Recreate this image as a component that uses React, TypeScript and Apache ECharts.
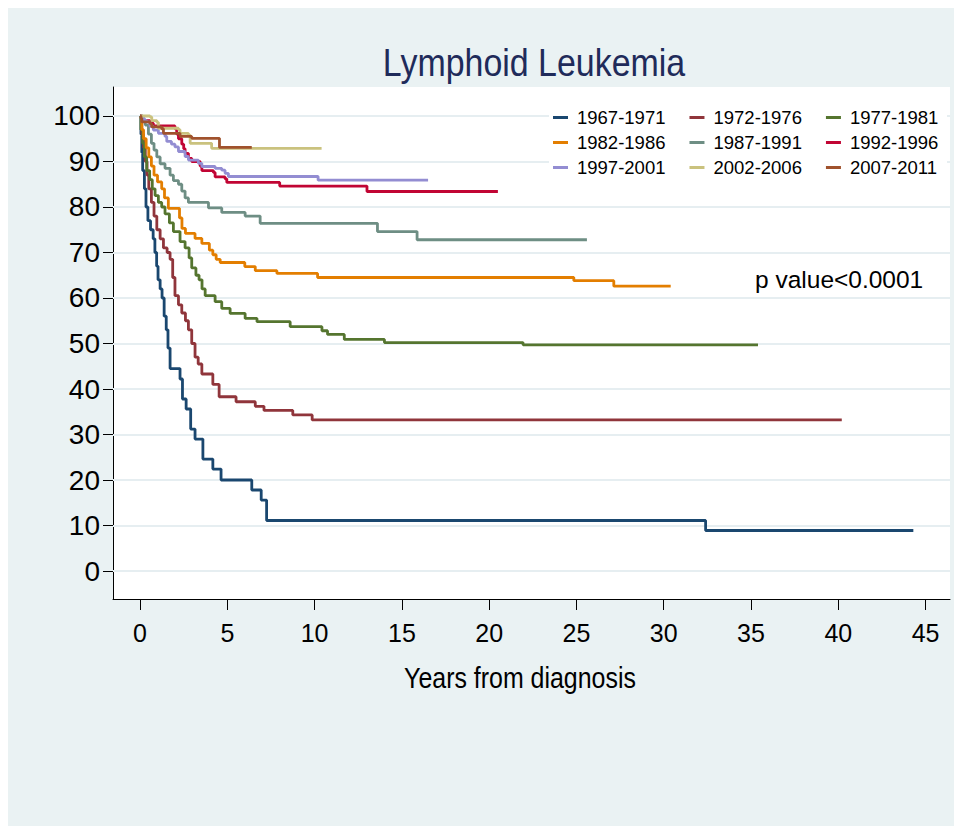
import React, { useEffect, useRef } from "react";
import * as echarts from "echarts";

const chartTitle = "Lymphoid Leukemia";
const xTitle = "Years from diagnosis";
const pValueText = "p value<0.0001";

const xTicks = [0, 5, 10, 15, 20, 25, 30, 35, 40, 45];
const yTicks = [0, 10, 20, 30, 40, 50, 60, 70, 80, 90, 100];

const cohortNames = [
  "1967-1971", "1972-1976", "1977-1981",
  "1982-1986", "1987-1991", "1992-1996",
  "1997-2001", "2002-2006", "2007-2011",
];

const cohortColors = [
  "#1a476f", "#90353b", "#55752f",
  "#e37e00", "#6e8e84", "#c10534",
  "#938dd2", "#cac27e", "#a0522d",
];

// Kaplan-Meier step curves: [years, survival %]
const km1967 = [
  [0, 100], [0.05, 96], [0.1, 92], [0.15, 88], [0.25, 84], [0.34, 80], [0.45, 77],
  [0.6, 75], [0.75, 73], [0.85, 70], [0.95, 67], [1.03, 64], [1.15, 62], [1.26, 60],
  [1.38, 56], [1.5, 53], [1.6, 49], [1.72, 44.5], [2.29, 42.2], [2.43, 37.8],
  [2.64, 35.6], [2.9, 31.2], [3.15, 29], [3.6, 24.6], [4.17, 22.4], [4.64, 20],
  [6.4, 17.8], [6.94, 15.6], [7.25, 11.1], [32.4, 8.9], [44.3, 8.9],
];
const km1972 = [
  [0, 100], [0.1, 96], [0.2, 93], [0.3, 90], [0.4, 87], [0.5, 84], [0.65, 81],
  [0.8, 78], [0.96, 75], [1.15, 73], [1.34, 71], [1.55, 70], [1.72, 68.5],
  [1.87, 64.5], [2.0, 60.5], [2.2, 58.5], [2.39, 56.7], [2.6, 55], [2.77, 53],
  [2.96, 50], [3.15, 47], [3.33, 45.5], [3.54, 43.3], [4.17, 41], [4.53, 38.3],
  [5.5, 37.2], [6.6, 36.2], [7.1, 35.3], [8.75, 34.3], [9.86, 33.2], [40.2, 33.2],
];
const km1977 = [
  [0, 100], [0.05, 97], [0.15, 94], [0.25, 91], [0.38, 88], [0.55, 86], [0.7, 84],
  [0.86, 82.5], [1.05, 81], [1.24, 80], [1.43, 78.5], [1.68, 76.5], [1.91, 74.6],
  [2.29, 72.4], [2.58, 71], [2.81, 68.8], [2.96, 66.6], [3.2, 65], [3.38, 64],
  [3.55, 62], [3.73, 60.5], [4.3, 59.2], [4.68, 57.7], [5.16, 56.6], [6.02, 55.5],
  [6.7, 54.8], [8.6, 53.7], [10.42, 52.8], [10.74, 52], [11.7, 50.9], [14.0, 50.2],
  [21.94, 49.7], [35.4, 49.7],
];
const km1982 = [
  [0, 100], [0.1, 97], [0.2, 95], [0.35, 93], [0.5, 91], [0.65, 89], [0.8, 87],
  [1.0, 85.5], [1.24, 84], [1.4, 82], [1.62, 79.7], [2.26, 77.6], [2.4, 75.3],
  [2.6, 74.2], [3.15, 73.1], [3.54, 72], [3.97, 70.5], [4.17, 69.5], [4.36, 68.5],
  [4.59, 67.8], [6.0, 66.9], [6.6, 66], [7.84, 65.4], [10.17, 64.5], [24.85, 63.8],
  [27.14, 62.6], [30.4, 62.6],
];
const km1987 = [
  [0, 100], [0.15, 99], [0.3, 98], [0.48, 96], [0.65, 94], [0.8, 92.5], [0.96, 91],
  [1.15, 89.5], [1.43, 88.5], [1.72, 87], [1.91, 85.8], [2.2, 85], [2.39, 83.5],
  [2.58, 82], [2.77, 81], [3.92, 79.8], [4.68, 78.8], [6.02, 78], [6.88, 76.4],
  [13.6, 74.6], [15.87, 72.8], [25.6, 72.8],
];
const km1992 = [
  [0, 100], [0.1, 99.5], [0.19, 99], [0.57, 98.4], [0.76, 97.8], [2.0, 97.2],
  [2.1, 96], [2.2, 95], [2.39, 93.8], [2.5, 92.8], [2.58, 91.8], [2.77, 90.7],
  [2.96, 90], [3.44, 89], [3.54, 88], [4.2, 87.6], [4.3, 86.6], [4.87, 86.2],
  [4.97, 85.4], [8.0, 84.6], [13.0, 83.4], [20.5, 83.4],
];
const km1997 = [
  [0, 100], [0.1, 99.5], [0.25, 99], [0.38, 98.7], [0.57, 97.7], [0.76, 96.9],
  [1.05, 96.2], [1.43, 95.5], [1.53, 94.4], [1.8, 93.8], [2.0, 93.2], [2.2, 92.2],
  [2.58, 91.1], [2.77, 90.3], [3.34, 89.6], [3.54, 88.9], [4.3, 88.5], [4.68, 88.1],
  [4.87, 87.4], [5.06, 86.7], [10.2, 85.9], [16.5, 85.9],
];
const km2002 = [
  [0, 100], [0.57, 99.8], [0.67, 99], [0.96, 98.6], [1.05, 97.3], [2.2, 97],
  [2.29, 96.2], [2.77, 95.8], [2.87, 94], [4.1, 92.9], [10.4, 92.9],
];
const km2007 = [
  [0, 100], [0.05, 99.5], [0.1, 98.7], [0.57, 98.3], [0.67, 97.6], [1.24, 97.2],
  [1.34, 96.2], [2.29, 95.5], [2.96, 95.1], [4.55, 93.1], [6.4, 93.1],
];

const cohortData = [km1967, km1972, km1977, km1982, km1987, km1992, km1997, km2002, km2007];

const FONT = "'Liberation Sans', Arial, sans-serif";

export default function App() {
  const ref = useRef<HTMLDivElement>(null);

  useEffect(() => {
    document.body.style.overflow = "hidden";
    document.documentElement.style.overflow = "hidden";
    if (!ref.current) return;
    const chart = echarts.init(ref.current, undefined, { renderer: "svg" });

    const lineSeries = cohortNames.map((name, i) => ({
      name,
      type: "line",
      step: "end",
      data: cohortData[i],
      showSymbol: false,
      symbol: "none",
      z: 10,
      color: cohortColors[i],
      lineStyle: { color: cohortColors[i], width: 2.8 },
    }));

    const legends = [0, 1, 2].map((r) => ({
      data: cohortNames.slice(r * 3, r * 3 + 3),
      orient: "horizontal",
      left: 545,
      top: 100 + r * 25,
      padding: 0,
      itemWidth: 15,
      itemHeight: 3,
      itemGap: 24,
      icon: "rect",
      z: 20,
      selectedMode: false,
      textStyle: {
        fontFamily: FONT,
        fontSize: 18.5,
        color: "#000",
        padding: [0, 0, 0, 4],
      },
    }));

    chart.setOption({
      animation: false,
      backgroundColor: "#eaf2f3",
      legend: legends,
      grid: {
        left: 105,
        top: 79,
        width: 837,
        height: 512,
        show: true,
        backgroundColor: "#ffffff",
        borderWidth: 0,
      },
      xAxis: {
        type: "value",
        min: -1.55,
        max: 46.4,
        axisLine: { show: true, onZero: false, lineStyle: { color: "#000", width: 1 } },
        axisTick: { show: true, customValues: xTicks, length: 11, lineStyle: { color: "#000" } },
        axisLabel: { customValues: xTicks, fontSize: 25, fontFamily: FONT, color: "#000", margin: 21 },
        splitLine: { show: false },
      },
      yAxis: {
        type: "value",
        min: -6.15,
        max: 106.37,
        axisLine: { show: true, onZero: false, lineStyle: { color: "#000", width: 1 } },
        axisTick: { show: true, customValues: yTicks, length: 10, lineStyle: { color: "#000" } },
        axisLabel: { customValues: yTicks, fontSize: 28, fontFamily: FONT, color: "#000", margin: 13 },
        splitLine: { show: false },
      },
      graphic: [
        {
          type: "text",
          z: 10,
          x: 526,
          y: 35,
          scaleX: 0.87,
          style: {
            text: chartTitle,
            font: `39px ${FONT}`,
            fill: "#1f2b5a",
            align: "center",
            verticalAlign: "top",
          },
          silent: true,
        },
        {
          type: "text",
          z: 10,
          x: 512,
          y: 656,
          scaleX: 0.86,
          style: {
            text: xTitle,
            font: `29px ${FONT}`,
            fill: "#000",
            align: "center",
            verticalAlign: "top",
          },
          silent: true,
        },
        {
          type: "rect",
          z: 10,
          shape: { x: 541, y: 96, width: 398, height: 76 },
          style: { fill: "#ffffff" },
          silent: true,
        },
        {
          type: "text",
          z: 10,
          x: 747,
          y: 259,
          style: {
            text: pValueText,
            font: `24.5px ${FONT}`,
            fill: "#000",
            verticalAlign: "top",
          },
          silent: true,
        },
      ],
      series: [
        {
          name: "grid",
          type: "line",
          data: [],
          z: 1,
          silent: true,
          markLine: {
            silent: true,
            z: 1,
            symbol: ["none", "none"],
            label: { show: false },
            lineStyle: { color: "#e6eef1", width: 2, type: "solid" },
            data: yTicks.map((v) => ({ yAxis: v })),
          },
        },
        ...lineSeries,
      ],
    });

    return () => chart.dispose();
  }, []);

  return <div ref={ref} style={{ width: 954, height: 818 }} />;
}
